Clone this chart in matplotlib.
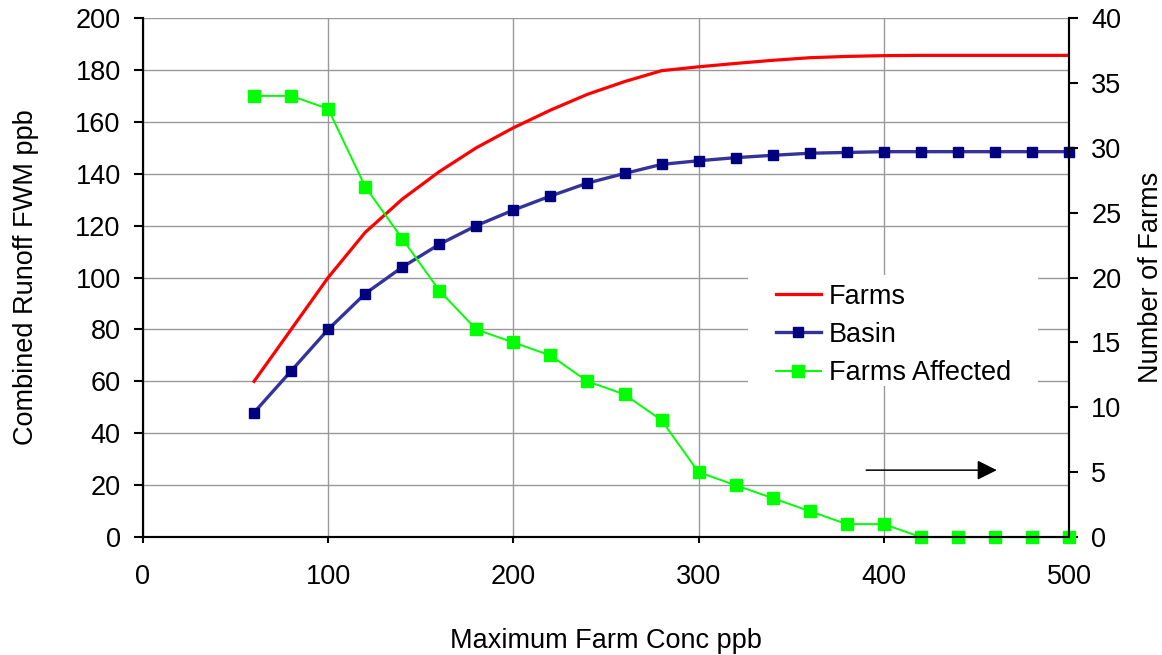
import numpy as np
import matplotlib
matplotlib.use("Agg")
import matplotlib.pyplot as plt
from matplotlib.patches import Rectangle

plt.rcParams['font.family'] = ['Liberation Sans', 'DejaVu Sans']

# data
conc = [60, 80, 100, 120, 140, 160, 180, 200, 220, 240, 260, 280,
        300, 320, 340, 360, 380, 400, 420, 440, 460, 480, 500]
farms = [60, 80, 100, 117.4, 130.2, 140.8, 150, 157.7, 164.5, 170.6, 175.5, 179.7,
         181.2, 182.5, 183.7, 184.7, 185.2, 185.5, 185.6, 185.6, 185.6, 185.6, 185.6]
basin = [48, 64, 80, 93.8, 104, 112.8, 120, 126, 131.4, 136.4, 140.1, 143.6,
         145, 146.2, 147.1, 147.9, 148.2, 148.5, 148.5, 148.5, 148.5, 148.5, 148.5]
affected = [34, 34, 33, 27, 23, 19, 16, 15, 14, 12, 11, 9,
            5, 4, 3, 2, 1, 1, 0, 0, 0, 0, 0]

fs = 19.5

fig = plt.figure(figsize=(11.62, 6.55), dpi=100)
ax = fig.add_axes([0.123, 0.18, 0.797, 0.7925])
ax2 = ax.twinx()

l1, = ax.plot(conc, farms, color="#ff0000", lw=2.3, label="Farms")
l2, = ax.plot(conc, basin, color="#333399", lw=2.4, marker="s", markersize=7,
              markerfacecolor="#000080", markeredgecolor="#000080", label="Basin", clip_on=False)
l3, = ax2.plot(conc, affected, color="#00ff00", lw=1.4, marker="s", markersize=9.3,
               markerfacecolor="#00ff00", markeredgecolor="#00ff00", label="Farms Affected", clip_on=False)

ax.set_xlim(0, 500)
ax.set_ylim(0, 200)
ax2.set_ylim(0, 40)
ax.set_xticks(np.arange(0, 501, 100))
ax.set_yticks(np.arange(0, 201, 20))
ax2.set_yticks(np.arange(0, 41, 5))

ax.grid(True, color="#999999", lw=1)
ax.set_axisbelow(True)

for a in (ax, ax2):
    a.spines["top"].set_visible(False)
    for s in ("left", "right", "bottom"):
        a.spines[s].set_linewidth(1.5)
    a.tick_params(direction="out", length=6.5, width=1.5, labelsize=fs, pad=9.5)
ax.tick_params(axis="x", length=4.5, pad=15)

ax.set_xlabel("Maximum Farm Conc ppb", fontsize=fs, labelpad=27)
ax.set_ylabel("Combined Runoff FWM ppb", fontsize=fs, labelpad=26.5)
ax2.set_ylabel("Number of Farms", fontsize=fs, labelpad=12)

# white box behind the legend (legend itself has no border)
ax2.add_patch(Rectangle((0.6533, 0.291), 0.3132, 0.2139, transform=ax2.transAxes,
                        facecolor="white", edgecolor="none", zorder=1))
ax2.legend(handles=[l1, l2, l3], loc="upper left", bbox_to_anchor=(0.6836, 0.488),
           borderaxespad=0, borderpad=0, fontsize=fs, frameon=False,
           handlelength=1.65, handletextpad=0.3, labelspacing=0.45)

# arrow pointing at the right-hand axis
ax.annotate("", xy=(0.922, 0.129), xytext=(0.781, 0.129), xycoords="axes fraction",
            arrowprops=dict(arrowstyle="-|>,head_length=0.5,head_width=0.25",
                            color="black", lw=1.1, mutation_scale=24, shrinkA=0, shrinkB=0))

fig.savefig("out.png", dpi=100)
